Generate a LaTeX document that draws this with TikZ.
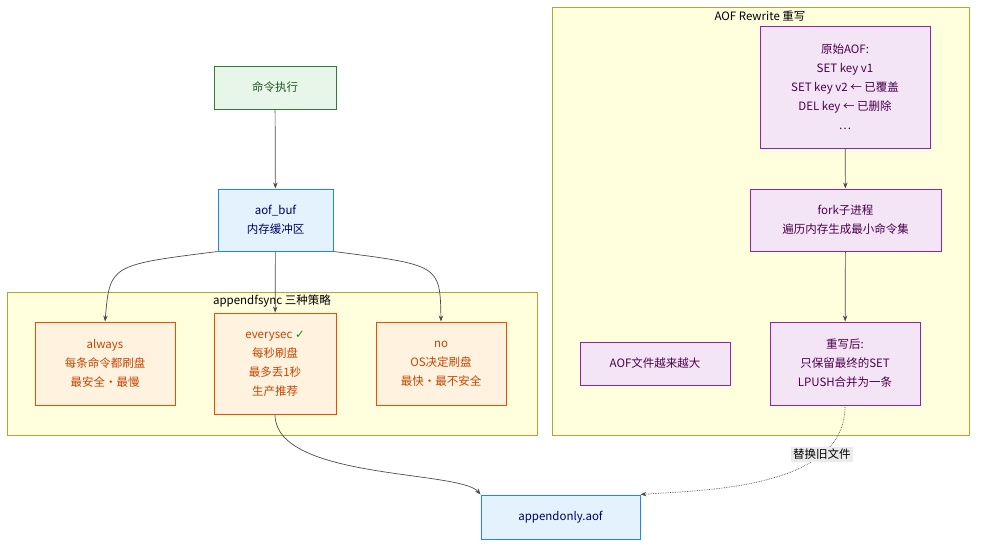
\documentclass[tikz,border=0pt]{standalone}
\usepackage{fontspec}
\setmainfont{Noto Sans CJK SC}
\usetikzlibrary{positioning, arrows.meta}
\definecolor{grpfill}{HTML}{FFFFDE}
\definecolor{grpline}{HTML}{AAAA33}
\definecolor{blueline}{HTML}{1E88E5}
\definecolor{bluefill}{HTML}{E3F2FD}
\definecolor{greenline}{HTML}{2E7D32}
\definecolor{greenfill}{HTML}{E8F5E9}
\definecolor{orangeline}{HTML}{E65100}
\definecolor{orangefill}{HTML}{FFF3E0}
\definecolor{purpleline}{HTML}{8E24AA}
\definecolor{purplefill}{HTML}{F3E5F5}
\tikzset{
  box/.style={draw, line width=1pt, align=center, inner sep=0pt, font=\fontsize{11.5}{19}\selectfont},
  green box/.style={box, fill=greenfill, draw=greenline, text=greenline!70!black},
  blue box/.style={box, fill=bluefill, draw=blueline, text=blue!40!black},
  orange box/.style={box, fill=orangefill, draw=orangeline, text=orangeline!85!black},
  purple box/.style={box, fill=purplefill, draw=purpleline, text=violet!60!black},
  group/.style={draw=grpline, fill=grpfill, line width=0.6pt},
  flow/.style={draw=black!70, line width=0.7pt, -{Stealth[length=6pt]}},
}
\begin{document}
\begin{tikzpicture}[x=1pt, y=-1pt]
  \useasboundingbox (0,0) rectangle (984,550);
  % groups
  \draw[group] (7,292) rectangle (537,435);
  \node[font=\fontsize{11.5}{13}\selectfont] (syncTitle) at (272,301) {appendfsync 三种策略};
  \draw[group] (552,7) rectangle (969,435);
  \node[font=\fontsize{11.5}{13}\selectfont] (rwTitle) at (760,16) {AOF Rewrite 重写};

  % nodes
  \node[green box, minimum width=122pt, minimum height=43pt] (cmd) at (275,87.5) {命令执行};
  \node[blue box, minimum width=115pt, minimum height=62pt] (buf) at (275.5,220) {aof\_buf\\内存缓冲区};
  \node[orange box, minimum width=140pt, minimum height=83pt] (always) at (105,363.5) {always\\每条命令都刷盘\\最安全·最慢};
  \node[orange box, minimum width=122pt, minimum height=101pt] (everysec) at (275,363.5) {everysec \textcolor{green!60!black}{\fontspec{DejaVu Sans}✓}\\每秒刷盘\\最多丢1秒\\生产推荐};
  \node[orange box, minimum width=130pt, minimum height=83pt] (no) at (441,363.5) {no\\OS决定刷盘\\最快·最不安全};
  \node[blue box, minimum width=159pt, minimum height=44pt] (aofFile) at (560.5,517) {appendonly.aof};
  \node[purple box, minimum width=170pt, minimum height=122pt] (orig) at (845,87) {原始AOF:\\SET key v1\\SET key v2 ← 已覆盖\\DEL key ← 已删除\\…};
  \node[purple box, minimum width=191pt, minimum height=62pt] (fork) at (845.5,220) {fork子进程\\遍历内存生成最小命令集};
  \node[purple box, minimum width=150pt, minimum height=83pt] (rewritten) at (845,363.5) {重写后:\\只保留最终的SET\\LPUSH合并为一条};
  \node[purple box, minimum width=150pt, minimum height=43pt] (grow) at (655,363.5) {AOF文件越来越大};

  % connectors
  \draw[flow] (cmd) -- (buf);
  \draw[flow] (buf.south west) .. controls (110,265) .. (always.north);
  \draw[flow] (buf) -- (everysec);
  \draw[flow] (buf.south east) .. controls (440,265) .. (no.north);
  \draw[flow] (everysec.south) .. controls (275,480) and (460,470) .. (aofFile.north west);
  \draw[flow] (orig) -- (fork);
  \draw[flow] (fork) -- (rewritten);
  \draw[flow, densely dotted] (rewritten.south) .. controls (846,490) and (700,490) .. (aofFile.north east)
    node[pos=0.25, fill=black!8, inner sep=2pt, font=\fontsize{11.5}{13}\selectfont] (swap) {替换旧文件};
\end{tikzpicture}
\end{document}
